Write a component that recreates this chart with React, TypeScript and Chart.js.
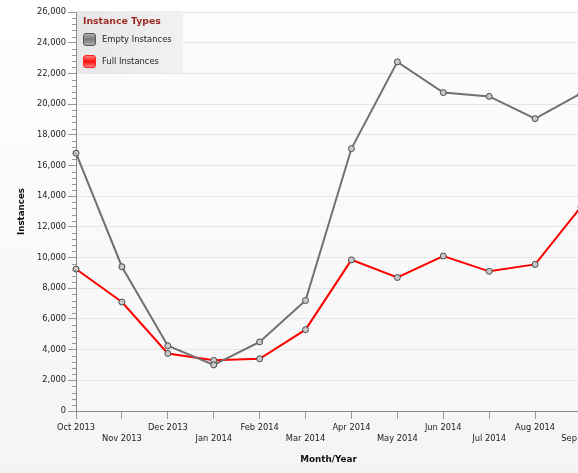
import React, { useEffect, useRef } from 'react';
import { Chart, registerables } from 'chart.js';

Chart.register(...registerables);

const months = ['Oct 2013', 'Nov 2013', 'Dec 2013', 'Jan 2014', 'Feb 2014', 'Mar 2014', 'Apr 2014', 'May 2014', 'Jun 2014', 'Jul 2014', 'Aug 2014', 'Sep 2014'];
const emptyInstances = [16800, 9400, 4250, 3000, 4500, 7200, 17100, 22750, 20750, 20500, 19050, 20700];
const fullInstances = [9250, 7100, 3750, 3300, 3400, 5300, 9850, 8700, 10100, 9100, 9550, 13300];
const yMin = 0;
const yMax = 26000;
const yStep = 2000;
const yMinorStep = 400;
const seriesNames = ['Empty Instances', 'Full Instances'];
const legendTitle = 'Instance Types';
const xTitle = 'Month/Year';
const yTitle = 'Instances';

const FONT = "'DejaVu Sans', Verdana, sans-serif";

const bgPlugin = {
  id: 'bgPlugin',
  beforeDraw(chart: any) {
    const { ctx, chartArea, width, height } = chart;
    ctx.save();
    const g = ctx.createLinearGradient(0, 0, 0, height);
    g.addColorStop(0, '#ffffff');
    g.addColorStop(1, '#f4f4f4');
    ctx.fillStyle = g;
    ctx.fillRect(0, 0, width, height);
    const g2 = ctx.createLinearGradient(0, chartArea.top, 0, chartArea.bottom);
    g2.addColorStop(0, '#fcfcfc');
    g2.addColorStop(1, '#f7f7f7');
    ctx.fillStyle = g2;
    ctx.fillRect(chartArea.left, chartArea.top, chartArea.right - chartArea.left, chartArea.bottom - chartArea.top);
    ctx.restore();
  },
};

const minorTickPlugin = {
  id: 'minorTicks',
  afterDraw(chart: any) {
    const { ctx, chartArea } = chart;
    const ys = chart.scales.y;
    ctx.save();
    ctx.strokeStyle = '#999999';
    ctx.lineWidth = 1;
    for (let v = yMin; v <= yMax; v += yMinorStep) {
      if (v % yStep === 0) continue;
      const py = Math.round(ys.getPixelForValue(v)) + 0.5;
      ctx.beginPath();
      ctx.moveTo(chartArea.left - 4, py);
      ctx.lineTo(chartArea.left, py);
      ctx.stroke();
    }
    ctx.restore();
  },
};

function roundRect(ctx: any, x: number, y: number, w: number, h: number, r: number) {
  ctx.beginPath();
  ctx.moveTo(x + r, y);
  ctx.lineTo(x + w - r, y);
  ctx.quadraticCurveTo(x + w, y, x + w, y + r);
  ctx.lineTo(x + w, y + h - r);
  ctx.quadraticCurveTo(x + w, y + h, x + w - r, y + h);
  ctx.lineTo(x + r, y + h);
  ctx.quadraticCurveTo(x, y + h, x, y + h - r);
  ctx.lineTo(x, y + r);
  ctx.quadraticCurveTo(x, y, x + r, y);
  ctx.closePath();
}

const legendPlugin = {
  id: 'boxLegend',
  afterDatasetsDraw(chart: any) {
    const { ctx, chartArea } = chart;
    const x0 = chartArea.left + 1;
    const y0 = chartArea.top - 1;
    const w = 106;
    const h = 62;
    ctx.save();
    const g = ctx.createLinearGradient(x0, 0, x0 + w, 0);
    g.addColorStop(0, '#e7e7e7');
    g.addColorStop(1, '#f1f1f1');
    ctx.fillStyle = g;
    ctx.fillRect(x0, y0, w, h);
    ctx.fillStyle = '#9c2b23';
    ctx.font = `bold 9.3px ${FONT}`;
    ctx.textBaseline = 'middle';
    ctx.textAlign = 'left';
    ctx.fillText(legendTitle, x0 + 6, y0 + 11);
    const styles = [
      { border: '#5a5a5a', c1: '#b8b8b8', c2: '#7a7a7a' },
      { border: '#ff2020', c1: '#ff9090', c2: '#ff1010' },
    ];
    chart.data.datasets.forEach((ds: any, i: number) => {
      const iy = y0 + 22 + i * 22;
      const ix = x0 + 6;
      const s = styles[i];
      const gg = ctx.createLinearGradient(0, iy, 0, iy + 13);
      gg.addColorStop(0, s.c1);
      gg.addColorStop(0.5, s.c2);
      gg.addColorStop(1, s.c1);
      roundRect(ctx, ix + 0.5, iy + 0.5, 12, 12, 2.5);
      ctx.fillStyle = gg;
      ctx.fill();
      ctx.strokeStyle = s.border;
      ctx.lineWidth = 1;
      ctx.stroke();
      ctx.fillStyle = '#222222';
      ctx.font = `8.4px ${FONT}`;
      ctx.fillText(ds.label, x0 + 25, iy + 7);
    });
    ctx.restore();
  },
};

export default function App() {
  const ref = useRef<HTMLCanvasElement | null>(null);

  useEffect(() => {
    if (!ref.current) return;
    const labels = months.map((m, i) => (i % 2 === 1 ? ['', m] : m));
    const chart = new Chart(ref.current, {
      type: 'line',
      data: {
        labels,
        datasets: [
          {
            label: seriesNames[0],
            data: emptyInstances,
            borderColor: '#707070',
            borderWidth: 2,
            pointRadius: 3,
            pointBackgroundColor: '#c8c8c8',
            pointBorderColor: '#4a4a4a',
            pointBorderWidth: 1,
            tension: 0,
            fill: false,
          },
          {
            label: seriesNames[1],
            data: fullInstances,
            borderColor: '#ff0000',
            borderWidth: 2,
            pointRadius: 3,
            pointBackgroundColor: '#c8c8c8',
            pointBorderColor: '#4a4a4a',
            pointBorderWidth: 1,
            tension: 0,
            fill: false,
          },
        ],
      },
      options: {
        animation: false,
        responsive: false,
        devicePixelRatio: 1,
        layout: { padding: { top: 12, right: 30, bottom: 0, left: 0 } },
        plugins: {
          legend: { display: false },
          tooltip: { enabled: false },
        },
        scales: {
          x: {
            type: 'category',
            offset: false,
            grid: { drawOnChartArea: false, tickLength: 8, tickColor: '#999999' },
            border: { color: '#8a8a8a', width: 1 },
            ticks: {
              autoSkip: false,
              maxRotation: 0,
              minRotation: 0,
              padding: 4,
              color: '#222222',
              font: { family: FONT, size: 8.3, lineHeight: 1.27 },
            },
            title: {
              display: true,
              text: xTitle,
              color: '#111111',
              font: { family: FONT, size: 8.8, weight: 'bold' },
              padding: { top: 0, bottom: 7.6 },
            },
            afterFit: (s: any) => { s.height = 62; },
          },
          y: {
            min: yMin,
            max: yMax,
            grid: { color: '#e6e6e6', tickLength: 8, tickColor: '#999999' },
            border: { color: '#8a8a8a', width: 1 },
            ticks: {
              stepSize: yStep,
              padding: 2,
              color: '#222222',
              font: { family: FONT, size: 8.3 },
              callback: (v: any) => Number(v).toLocaleString('en-US'),
            },
            title: {
              display: true,
              text: yTitle,
              color: '#111111',
              font: { family: FONT, size: 8.7, weight: 'bold' },
              padding: { top: 16.6, bottom: 0 },
            },
            afterFit: (s: any) => { s.width = 76; },
          },
        },
      },
      plugins: [bgPlugin, minorTickPlugin, legendPlugin],
    } as any);
    return () => chart.destroy();
  }, []);

  return (
    <div style={{ position: 'fixed', left: 0, top: 0, width: 578, height: 473, overflow: 'hidden' }}>
      <canvas ref={ref} width={611} height={473} style={{ display: 'block' }} />
    </div>
  );
}
